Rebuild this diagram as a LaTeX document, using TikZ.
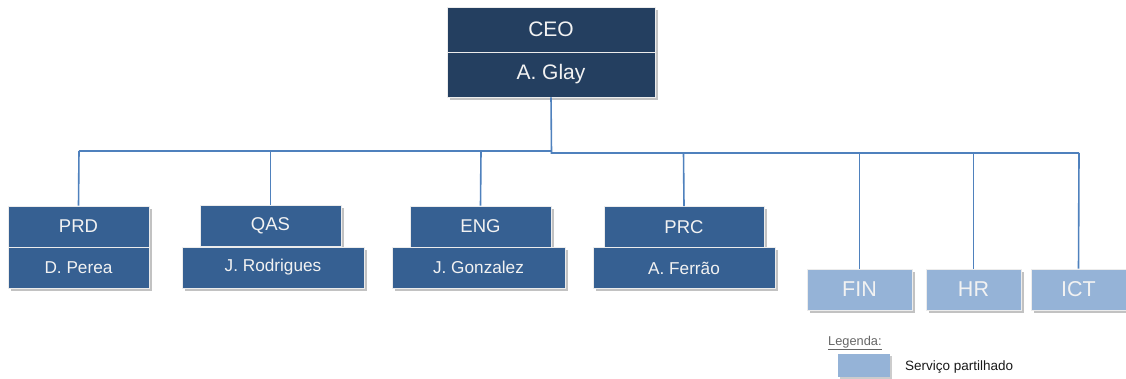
\documentclass[tikz,border=0pt]{standalone}
\usepackage{fontspec}
\setmainfont{Liberation Sans}
\usetikzlibrary{shadows}
\definecolor{navy}{HTML}{243F60}
\definecolor{midblue}{HTML}{366092}
\definecolor{lightblue}{HTML}{95B3D7}
\definecolor{linecol}{HTML}{4F81BD}
\definecolor{txt}{HTML}{F2F2F2}
\tikzset{
  base/.style={rectangle, draw=white!85!gray, line width=0.8pt, inner sep=0pt, text=txt,
    drop shadow={shadow xshift=2.5pt, shadow yshift=-2.5pt, fill=black!40, opacity=0.6}},
  ceobox/.style={base, fill=navy, minimum width=208pt, minimum height=45pt, font=\fontsize{21}{24}\selectfont},
  deptbox/.style={base, fill=midblue, minimum height=41pt, font=\fontsize{18.5}{22}\selectfont},
  namebox/.style={base, fill=midblue, minimum height=41pt, font=\fontsize{17.2}{20}\selectfont},
  svcbox/.style={base, fill=lightblue, minimum height=41pt, font=\fontsize{21.5}{24}\selectfont},
  conn/.style={draw=linecol, line width=1.6pt},
}
\begin{document}
\begin{tikzpicture}[x=1pt,y=-1pt]
\useasboundingbox (0,0) rectangle (1126,378);
% connectors first (behind boxes)
\coordinate (busL) at (79,151);
\coordinate (busM) at (551.5,151);
\coordinate (busMR) at (551.5,153);
\coordinate (busR) at (1079,153);
\coordinate (jPRD) at (79,151);
\coordinate (jQAS) at (270.5,151);
\coordinate (jENG) at (481,151);
\coordinate (jPRC) at (683.5,153);
\coordinate (jFIN) at (859.5,153);
\coordinate (jHR) at (973.5,153);
\coordinate (jICT) at (1079,153);

% nodes
\node[ceobox] (ceo) at (551,29.5) {CEO};
\node[ceobox] (glay) at (551,74.5) {A. Glay};

\node[deptbox, minimum width=141pt] (prd) at (78.5,226.5) {PRD};
\node[namebox, minimum width=141pt] (perea) at (78.5,267.5) {D. Perea};

\node[deptbox, minimum width=141pt] (qas) at (270.5,226) {QAS};
\node[namebox, minimum width=182pt] (rodrigues) at (273,267.5) {J. Rodrigues};

\node[deptbox, minimum width=141pt] (eng) at (480.5,226.5) {ENG};
\node[namebox, minimum width=173pt] (gonzalez) at (478.5,267.5) {J. Gonzalez};

\node[deptbox, minimum width=160pt] (prc) at (684,227) {PRC};
\node[namebox, minimum width=182pt] (ferrao) at (684,268) {A. Ferrão};

\node[svcbox, minimum width=105pt] (fin) at (859.5,289.5) {FIN};
\node[svcbox, minimum width=95pt] (hr) at (973.5,289.5) {HR};
\node[svcbox, minimum width=95pt] (ict) at (1078.5,289.5) {ICT};

% legend
\node[anchor=base west, text=black!60, font=\fontsize{12.8}{14}\selectfont, inner sep=0pt] (leg) at (828,345) {\underline{Legenda:}};
\node[rectangle, fill=lightblue, minimum width=52pt, minimum height=23pt, inner sep=0pt,
  drop shadow={shadow xshift=2pt, shadow yshift=-2pt, fill=black!40, opacity=0.5}] (legbox) at (864,365.5) {};
\node[anchor=west, text=black!90, font=\fontsize{13.5}{15}\selectfont, inner sep=0pt] (legtxt) at (905,367) {Serviço partilhado};

% connectors
\begin{scope}[on background layer/.try]
\end{scope}
\draw[conn] (glay.south) -- (busMR) -- (busR);
\draw[conn] (busL) -- (busM);
\draw[conn] (jPRD) -- (prd.north);
\draw[conn] (jQAS) -- (qas.north);
\draw[conn] (jENG) -- (eng.north);
\draw[conn] (jPRC) -- (prc.north);
\draw[conn] (jFIN) -- (fin.north);
\draw[conn] (jHR) -- (hr.north);
\draw[conn] (jICT) -- (ict.north);
\end{tikzpicture}
\end{document}
